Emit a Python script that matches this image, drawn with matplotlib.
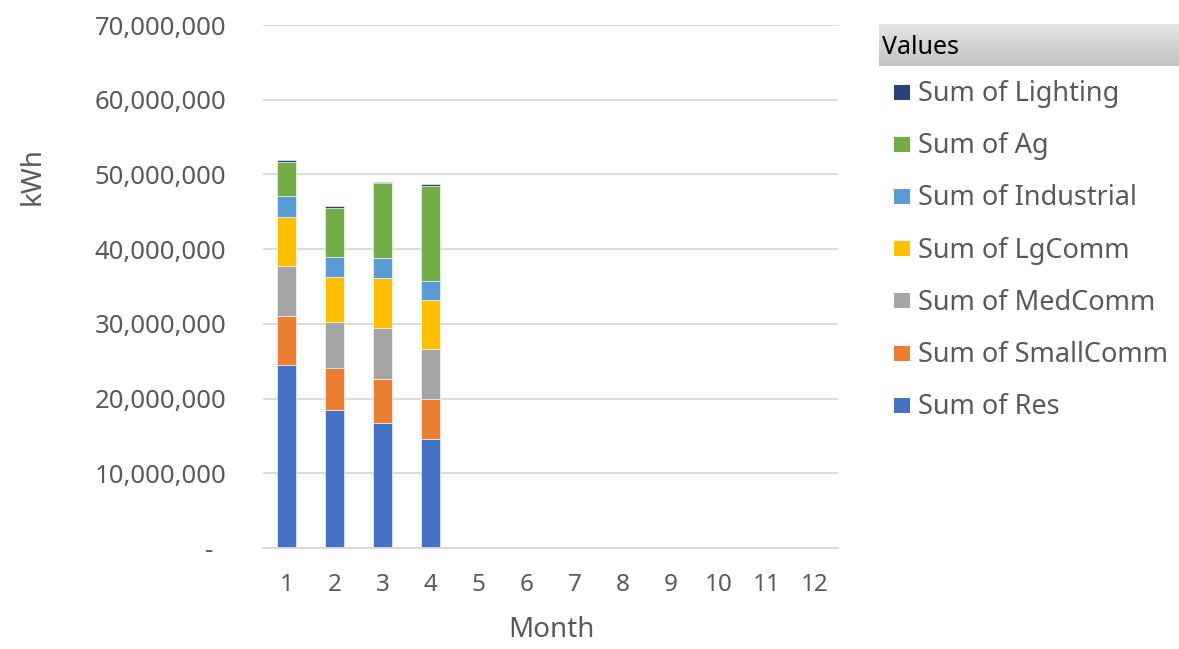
import numpy as np
import matplotlib.pyplot as plt
from matplotlib.patches import Rectangle
from matplotlib.ticker import FuncFormatter

plt.rcParams['font.family'] = ['Noto Sans', 'DejaVu Sans']

months = list(range(1, 13))
# monthly kWh by customer class (only Jan-Apr reported so far)
res = [24.46e6, 18.48e6, 16.74e6, 14.60e6]
small_comm = [6.57e6, 5.63e6, 5.89e6, 5.36e6]
med_comm = [6.74e6, 6.16e6, 6.83e6, 6.74e6]
lg_comm = [6.47e6, 5.98e6, 6.66e6, 6.43e6]
industrial = [2.90e6, 2.72e6, 2.72e6, 2.58e6]
ag = [4.51e6, 6.57e6, 10.00e6, 12.73e6]
lighting = [0.23e6, 0.22e6, 0.18e6, 0.22e6]

series = [
    ('Sum of Res', res, '#4472C4'),
    ('Sum of SmallComm', small_comm, '#ED7D31'),
    ('Sum of MedComm', med_comm, '#A5A5A5'),
    ('Sum of LgComm', lg_comm, '#FFC000'),
    ('Sum of Industrial', industrial, '#5B9BD5'),
    ('Sum of Ag', ag, '#70AD47'),
    ('Sum of Lighting', lighting, '#264478'),
]

txt = '#595959'
W, H = 1179, 649
fig = plt.figure(figsize=(W / 100, H / 100), dpi=100)
ax = fig.add_axes([262.5 / W, 1 - 548 / H, 576 / W, 523 / H])

x = np.array(months[:len(res)])
bottom = np.zeros(len(x))
for name, vals, col in series:
    ax.bar(x, vals, width=0.39, bottom=bottom, color=col,
           edgecolor='white', linewidth=0.4, zorder=2)
    bottom += np.array(vals)

ax.set_xlim(0.5, 12.5)
ax.set_ylim(0, 70e6)
ax.set_xticks(months)
ax.set_yticks(np.arange(0, 70e6 + 1, 10e6))
ax.yaxis.set_major_formatter(FuncFormatter(lambda v, p: '-  ' if v == 0 else f'{v:,.0f}'))
ax.tick_params(axis='both', length=0, colors=txt)
ax.tick_params(axis='y', labelsize=18.5, pad=26)
ax.tick_params(axis='x', labelsize=17.5, pad=18)
ax.grid(axis='y', color='#d9d9d9', linewidth=1.3, zorder=0)
for s in ['top', 'right', 'left']:
    ax.spines[s].set_visible(False)
ax.spines['bottom'].set_color('#d9d9d9')
ax.spines['bottom'].set_linewidth(1.3)

fig.text(551 / W, 1 - 630 / H, 'Month', fontsize=20, color=txt,
         ha='center', va='center')
fig.text(33 / W, 1 - 176 / H, 'kWh', rotation=90, fontsize=20, color=txt,
         ha='center', va='center')

# header bar for the legend
hax = fig.add_axes([879 / W, 1 - 66 / H, 300 / W, 42 / H])
grad = np.linspace(0.90, 0.76, 50).reshape(-1, 1)
hax.imshow(grad, cmap='gray', vmin=0, vmax=1, aspect='auto', extent=[0, 1, 0, 1])
hax.set_axis_off()
hax.text(3 / 300, 0.45, 'Values', fontsize=18, color='black', va='center', ha='left',
         transform=hax.transAxes)

# legend entries, top to bottom in stacking order reversed
for i, (name, vals, col) in enumerate(series[::-1]):
    yc = 92 + i * 52.2
    fig.patches.append(Rectangle((894 / W, 1 - (yc + 7.5) / H), 16 / W, 15 / H,
                                 facecolor=col, transform=fig.transFigure))
    fig.text(918 / W, 1 - (yc + 2) / H, name, fontsize=19.5, color=txt,
             ha='left', va='center')

fig.savefig('out.png', dpi=100)
